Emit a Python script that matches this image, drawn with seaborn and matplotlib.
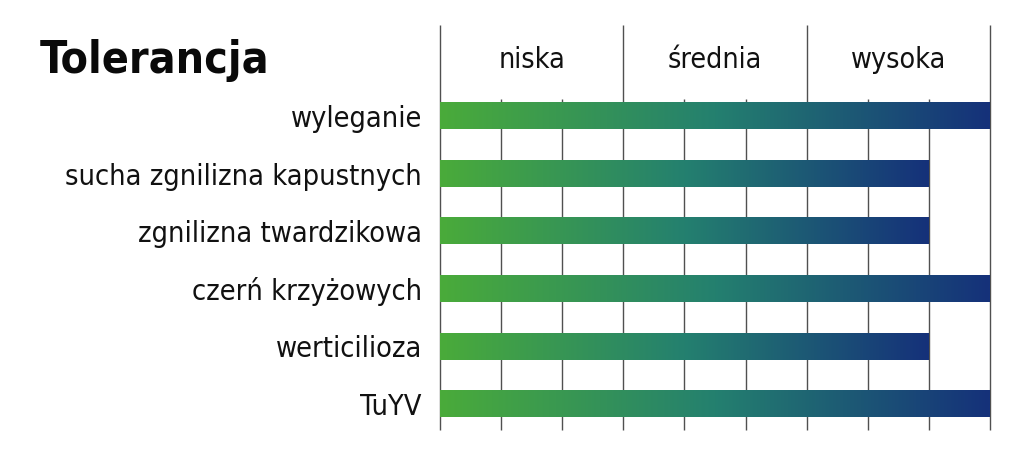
import numpy as np
import pandas as pd
import matplotlib
matplotlib.use('Agg')
import matplotlib.pyplot as plt
from matplotlib.colors import LinearSegmentedColormap
import seaborn as sns

# data
categories = ['wyleganie', 'sucha zgnilizna kapustnych', 'zgnilizna twardzikowa',
              'czerń krzyżowych', 'werticilioza', 'TuYV']
values = [9, 8, 8, 9, 8, 9]
levels = ['niska', 'średnia', 'wysoka']

sns.set_style('white')
plt.rcParams['font.family'] = ['DejaVu Sans']
plt.rcParams['font.stretch'] = 'condensed'

df = pd.DataFrame({'cecha': categories, 'ocena': values})

fig = plt.figure(figsize=(10.24, 4.53), dpi=100)
ax = fig.add_axes([440 / 1024, 1 - 430 / 453, 550 / 1024, 405 / 453])

sns.barplot(data=df, x='ocena', y='cecha', orient='h', color='#4aaa3b',
            width=0.46, ax=ax, zorder=3)

# gradient fill zamiast jednolitego koloru
cmap = LinearSegmentedColormap.from_list('tol', ['#4aab3a', '#24806f', '#15317a'])
grad = np.linspace(0, 1, 256).reshape(1, -1)
for bar in ax.patches:
    x0, y0 = bar.get_x(), bar.get_y()
    w, h = bar.get_width(), bar.get_height()
    ax.imshow(grad, cmap=cmap, aspect='auto', extent=(x0, x0 + w, y0 + h, y0),
              zorder=3, interpolation='bilinear')
    bar.set_visible(False)

ax.set_xlim(0, 9)
ax.set_ylim(5.45, -1.58)

# grid lines
line_col = '#505050'
for x in range(10):
    top = -1.58 if x % 3 == 0 else -0.3
    ax.vlines(x, top, 5.45, color=line_col, lw=1.0, zorder=1, clip_on=False)

for i, lab in enumerate(levels):
    ax.text(i * 3 + 1.5, -0.98, lab, ha='center', va='center', fontsize=20.5, color='#111111')

for s in ax.spines.values():
    s.set_visible(False)
ax.set_xticks([])
ax.set_xlabel('')
ax.set_ylabel('')
ax.tick_params(axis='y', length=0, pad=13, labelsize=20.7, labelcolor='#111111')

fig.text(40 / 1024, 1 - 73 / 453, 'Tolerancja', fontsize=32, fontweight='bold',
         va='baseline', ha='left', color='#0a0a0a')

fig.savefig('out.png', dpi=100)
